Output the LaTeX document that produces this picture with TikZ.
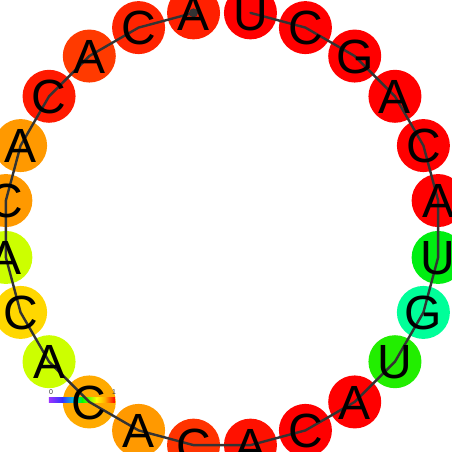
\documentclass[tikz,border=0pt]{standalone}
\usepackage{fontspec}
\setmainfont{Liberation Sans}
\definecolor{k1}{HTML}{FF2000}
\definecolor{k2}{HTML}{FF2400}
\definecolor{k3}{HTML}{FF3A00}
\definecolor{k4}{HTML}{FF1A00}
\definecolor{k5}{HTML}{FF9900}
\definecolor{k6}{HTML}{FF9900}
\definecolor{k7}{HTML}{CCFF00}
\definecolor{k8}{HTML}{FFD700}
\definecolor{k9}{HTML}{CCFF00}
\definecolor{k10}{HTML}{FFAA00}
\definecolor{k11}{HTML}{FF9900}
\definecolor{k12}{HTML}{FF3300}
\definecolor{k13}{HTML}{FF1100}
\definecolor{k14}{HTML}{FF0000}
\definecolor{k15}{HTML}{FF0000}
\definecolor{k16}{HTML}{22EE00}
\definecolor{k17}{HTML}{00FF99}
\definecolor{k18}{HTML}{00EE11}
\definecolor{k19}{HTML}{FF0000}
\definecolor{k20}{HTML}{FF0000}
\definecolor{k21}{HTML}{FF0000}
\definecolor{k22}{HTML}{FF0000}
\definecolor{k23}{HTML}{FF0000}
\definecolor{k24}{HTML}{FF0000}
\definecolor{cbA}{HTML}{9933FF}
\definecolor{cbB}{HTML}{3333FF}
\definecolor{cbC}{HTML}{00CCDD}
\definecolor{cbD}{HTML}{00FF00}
\definecolor{cbE}{HTML}{FFFF00}
\definecolor{cbF}{HTML}{FFAA00}
\definecolor{cbG}{HTML}{FF0000}
\definecolor{bbline}{HTML}{333333}
\begin{document}
\begin{tikzpicture}[x=1pt,y=1pt,
  ntcircle/.style={circle, inner sep=0pt, minimum size=53pt, draw=none},
  nttext/.style={inner sep=0pt, text height=34.4pt, text depth=0pt, font=\fontsize{48}{48}\selectfont},
  backbone/.style={draw=bbline, line width=2.4pt, line join=round, line cap=round},
  cblabel/.style={inner sep=0pt, font=\fontsize{7}{7}\selectfont, text=black!80}]
\useasboundingbox (-222,-223) rectangle (230,229);
\clip (-222,-223) rectangle (230,229);
\foreach \i in {1,...,24} {
  \pgfmathsetmacro\ang{97.5+15*(\i-1)}
  \node[ntcircle, fill=k\i] (n\i) at (\ang:218) {};
}
% colour bar
\shade[left color=cbA, right color=cbB] (-173,-168) rectangle (-159.6,-173.5);
\shade[left color=cbB, right color=cbC] (-159.8,-168) rectangle (-147.7,-173.5);
\shade[left color=cbC, right color=cbD] (-147.9,-168) rectangle (-139.8,-173.5);
\shade[left color=cbD, right color=cbE] (-140,-168) rectangle (-125.3,-173.5);
\shade[left color=cbE, right color=cbF] (-125.5,-168) rectangle (-116.7,-173.5);
\shade[left color=cbF, right color=cbG] (-116.9,-168) rectangle (-107,-173.5);
\node[cblabel] (lb0) at (-171,-163.5) {0};
\node[cblabel] (lb1) at (-108,-163.5) {1};
% backbone
\draw[backbone] (n1.center) \foreach \i in {2,...,24} { -- (n\i.center) };
\fill[bbline] (n1.center) circle (4.5pt);
% letters
\foreach \i/\l in {1/A,2/C,3/A,4/C,5/A,6/C,7/A,8/C,9/A,10/C,11/A,12/C,13/A,14/C,15/A,16/U,17/G,18/U,19/A,20/C,21/A,22/G,23/C,24/U} {
  \node[nttext] (t\i) at (n\i.center) {\l};
}
\end{tikzpicture}
\end{document}
